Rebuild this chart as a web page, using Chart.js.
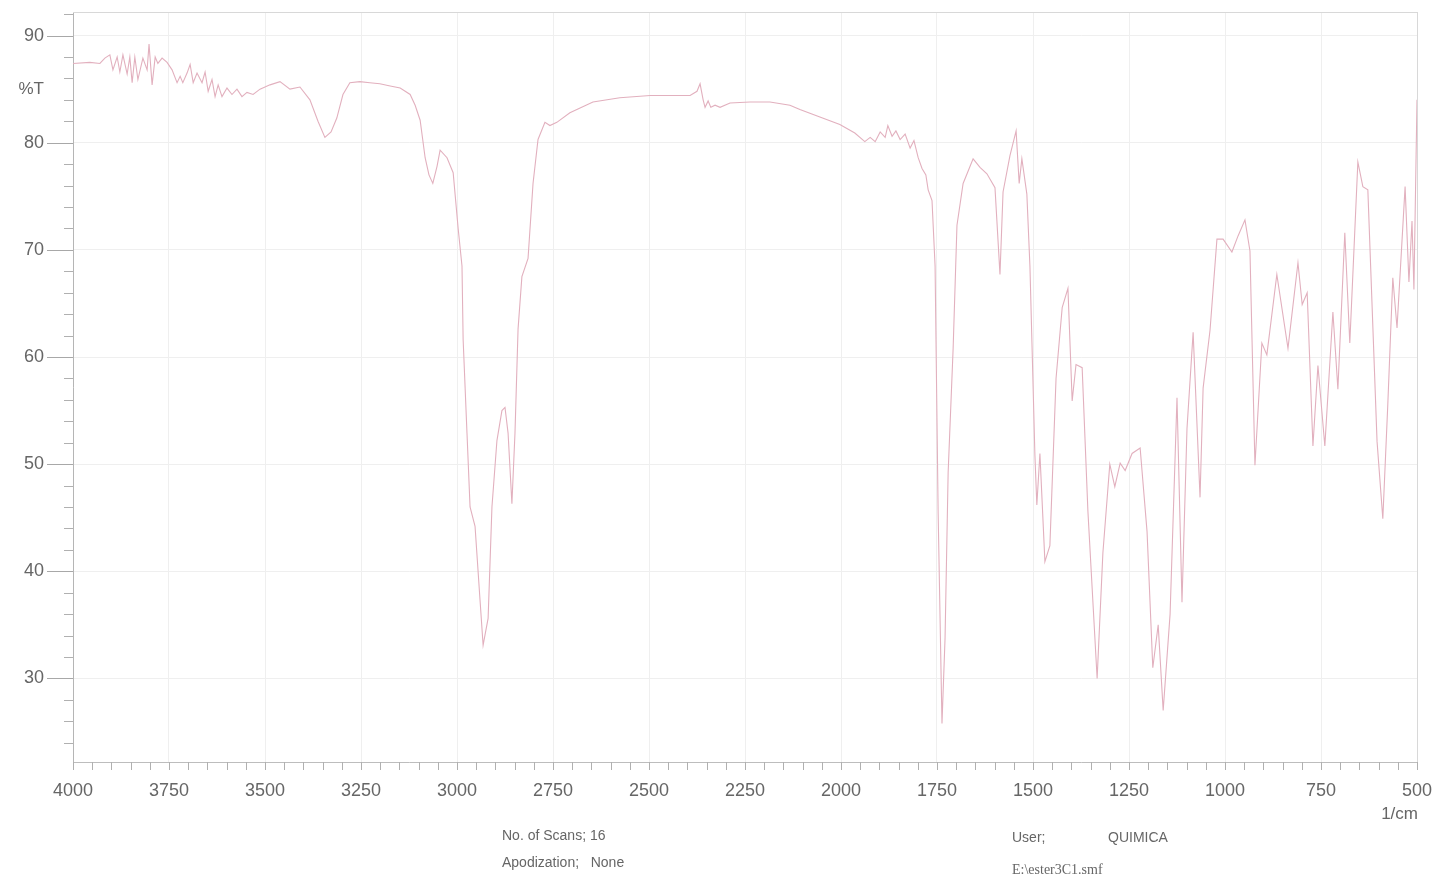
<!DOCTYPE html>
<html>
<head>
<meta charset="utf-8">
<script src="https://cdn.jsdelivr.net/npm/chart.js@4.4.1/dist/chart.umd.min.js"></script>
<style>
  html, body { margin: 0; padding: 0; background: #ffffff; }
  #wrap { position: relative; width: 1436px; height: 877px; overflow: hidden; }
  canvas { position: absolute; left: 0; top: 0; }
  .note { position: absolute; font-family: "Liberation Sans", Arial, sans-serif; font-size: 14px; color: #666; white-space: pre; line-height: 16px; }
  .serif { font-family: "Liberation Serif", "Times New Roman", serif; }
</style>
</head>
<body>
<div id="wrap">
  <canvas id="c" width="1436" height="877"></canvas>
  <div class="note" style="left:502px; top:827px;">No. of Scans; 16</div>
  <div class="note" style="left:502px; top:854px;">Apodization;   None</div>
  <div class="note" style="left:1012px; top:829px;">User;</div>
  <div class="note" style="left:1108px; top:829px;">QUIMICA</div>
  <div class="note serif" style="left:1012px; top:862px;">E:\ester3C1.smf</div>
</div>
<script>
// ---- data (wavenumber in 1/cm, transmittance in %T) ----
const wavenumbers = [
  4000, 3956, 3930, 3917, 3904, 3896, 3885, 3878, 3870, 3859, 3852, 3846, 3839, 3831, 3818, 3807,
  3802, 3794, 3786, 3779, 3768, 3755, 3742, 3729, 3721, 3714, 3703, 3695, 3687, 3677, 3664, 3656,
  3648, 3638, 3630, 3622, 3612, 3599, 3586, 3573, 3560, 3547, 3531, 3513, 3487, 3461, 3435, 3409,
  3383, 3362, 3344, 3328, 3313, 3297, 3279, 3253, 3227, 3201, 3174, 3148, 3122, 3109, 3096, 3083,
  3073, 3063, 3052, 3044, 3026, 3010, 2997, 2987, 2984, 2974, 2966, 2953, 2940, 2932, 2919, 2909,
  2896, 2883, 2875, 2867, 2857, 2849, 2841, 2831, 2815, 2802, 2789, 2771, 2758, 2740, 2706, 2646,
  2576, 2497, 2393, 2375, 2367, 2359, 2354, 2346, 2339, 2328, 2315, 2289, 2237, 2185, 2133, 2107,
  2055, 2003, 1964, 1938, 1924, 1911, 1898, 1885, 1878, 1867, 1857, 1846, 1833, 1820, 1810, 1799,
  1789, 1779, 1773, 1763, 1755, 1747, 1737, 1729, 1721, 1708, 1698, 1682, 1656, 1638, 1620, 1599,
  1586, 1578, 1560, 1544, 1536, 1529, 1516, 1508, 1495, 1490, 1482, 1469, 1456, 1440, 1424, 1409,
  1398, 1388, 1372, 1357, 1333, 1318, 1300, 1287, 1273, 1260, 1242, 1221, 1203, 1188, 1174, 1161,
  1143, 1125, 1112, 1099, 1083, 1065, 1057, 1039, 1021, 1005, 982, 966, 948, 935, 922, 904,
  891, 865, 836, 810, 799, 786, 771, 758, 740, 719, 706, 688, 675, 654, 641, 628,
  604, 589, 576, 563, 552, 531, 521, 513, 508, 500
];
const transmittance = [
  87.4, 87.5, 87.4, 87.9, 88.2, 86.8, 88.0, 86.6, 88.2, 86.4, 88.0, 85.6, 88.0, 85.9, 87.9, 86.8,
  89.2, 85.4, 88.0, 87.4, 87.9, 87.5, 86.8, 85.6, 86.2, 85.6, 86.5, 87.3, 85.6, 86.5, 85.6, 86.6,
  84.8, 85.9, 84.3, 85.4, 84.3, 85.1, 84.5, 85.0, 84.3, 84.7, 84.5, 85.0, 85.4, 85.7, 85.0, 85.2,
  84.0, 82.0, 80.5, 81.0, 82.3, 84.5, 85.6, 85.7, 85.6, 85.5, 85.3, 85.1, 84.5, 83.5, 82.1, 78.6,
  77.0, 76.2, 77.8, 79.3, 78.6, 77.2, 72.0, 68.5, 61.6, 52.9, 46.0, 44.2, 37.3, 33.1, 35.6, 46.0,
  52.2, 55.0, 55.3, 52.9, 46.3, 52.9, 62.6, 67.5, 69.2, 76.2, 80.3, 81.9, 81.6, 81.9, 82.8, 83.8,
  84.2, 84.4, 84.4, 84.8, 85.5, 84.0, 83.3, 83.9, 83.3, 83.5, 83.3, 83.7, 83.8, 83.8, 83.5, 83.1,
  82.4, 81.7, 80.9, 80.1, 80.5, 80.1, 81.0, 80.5, 81.6, 80.6, 81.1, 80.3, 80.8, 79.5, 80.2, 78.6,
  77.6, 77.0, 75.6, 74.6, 68.5, 45.4, 25.8, 33.8, 49.2, 60.8, 72.3, 76.2, 78.5, 77.7, 77.1, 75.8,
  67.7, 75.4, 78.8, 81.1, 76.2, 78.5, 75.2, 68.5, 50.8, 46.2, 51.0, 40.9, 42.4, 58.0, 64.6, 66.4,
  55.9, 59.3, 59.0, 45.6, 30.0, 41.7, 50.0, 47.9, 50.1, 49.4, 51.0, 51.5, 43.7, 31.0, 35.0, 27.0,
  36.0, 56.2, 37.1, 53.3, 62.3, 46.9, 57.1, 62.5, 71.0, 71.0, 69.8, 71.3, 72.8, 69.9, 49.9, 61.3,
  60.2, 67.7, 60.8, 68.8, 64.9, 66.0, 51.7, 59.2, 51.7, 64.2, 57.0, 71.6, 61.3, 78.2, 75.9, 75.6,
  52.1, 44.9, 55.6, 67.4, 62.7, 75.9, 67.0, 72.7, 66.3, 84.0
];
const xTickValues = [4000, 3750, 3500, 3250, 3000, 2750, 2500, 2250, 2000, 1750, 1500, 1250, 1000, 750, 500];
const yTickValues = [30, 40, 50, 60, 70, 80, 90];
const xRange = [500, 4000];
const yRange = [22.2, 92.2];
const xMinorStep = 50;
const yMinorStep = 2;
const yAxisUnit = '%T';
const xAxisUnit = '1/cm';

const points = wavenumbers.map((w, i) => ({ x: w, y: transmittance[i] }));
const labelFont = { family: '"Liberation Sans", Arial, sans-serif', size: 18 };
// target plot frame in page pixels
const frame = { left: 73, top: 12, right: 1417, bottom: 762 };

const decor = {
  id: 'decor',
  afterDraw(chart) {
    const { ctx, chartArea: a, scales: { x, y } } = chart;
    ctx.save();
    ctx.strokeStyle = '#d8d8d8';
    ctx.lineWidth = 1;
    ctx.beginPath();
    ctx.moveTo(a.left, a.top + 0.5); ctx.lineTo(a.right, a.top + 0.5);
    ctx.moveTo(a.right + 0.5, a.top); ctx.lineTo(a.right + 0.5, a.bottom);
    ctx.stroke();
    ctx.strokeStyle = '#b0b0b0';
    ctx.beginPath();
    for (let v = xRange[0]; v <= xRange[1]; v += xMinorStep) {
      const px = Math.round(x.getPixelForValue(v)) + 0.5;
      ctx.moveTo(px, a.bottom); ctx.lineTo(px, a.bottom + 8);
    }
    for (let v = 24; v <= yRange[1]; v += yMinorStep) {
      const py = Math.round(y.getPixelForValue(v)) + 0.5;
      ctx.moveTo(a.left - 9, py); ctx.lineTo(a.left, py);
    }
    ctx.stroke();
    ctx.strokeStyle = '#a8a8a8';
    ctx.beginPath();
    yTickValues.forEach(v => {
      const py = Math.round(y.getPixelForValue(v)) + 0.5;
      ctx.moveTo(a.left - 26, py); ctx.lineTo(a.left, py);
    });
    ctx.stroke();
    ctx.fillStyle = '#666';
    ctx.font = '17px "Liberation Sans", Arial, sans-serif';
    ctx.textAlign = 'right';
    ctx.textBaseline = 'middle';
    ctx.fillText(yAxisUnit, 44, y.getPixelForValue(85));
    ctx.fillText(xAxisUnit, a.right + 1, a.bottom + 52);
    ctx.restore();
  }
};

const chart = new Chart(document.getElementById('c'), {
  type: 'line',
  data: {
    datasets: [{
      data: points,
      borderColor: 'rgb(226,176,190)',
      borderWidth: 1.1,
      pointRadius: 0,
      tension: 0,
      fill: false
    }]
  },
  options: {
    responsive: false,
    animation: false,
    parsing: false,
    normalized: true,
    plugins: { legend: { display: false }, tooltip: { enabled: false } },
    layout: { padding: { top: frame.top, right: 1436 - frame.right, left: 0, bottom: 0 } },
    scales: {
      x: {
        type: 'linear',
        reverse: true,
        min: xRange[0],
        max: xRange[1],
        afterBuildTicks: s => { s.ticks = xTickValues.map(v => ({ value: v })); },
        afterFit: s => { s.height = 877 - frame.bottom; s.paddingLeft = 0; s.paddingRight = 0; },
        ticks: { font: labelFont, color: '#666', padding: 18, maxRotation: 0, autoSkip: false, callback: v => String(v) },
        grid: { color: '#efefef', drawTicks: false },
        border: { color: '#bdbdbd' }
      },
      y: {
        type: 'linear',
        min: yRange[0],
        max: yRange[1],
        afterBuildTicks: s => { s.ticks = yTickValues.map(v => ({ value: v })); },
        afterFit: s => { s.width = frame.left; s.paddingTop = 0; s.paddingBottom = 0; },
        ticks: { font: labelFont, color: '#666', padding: 29, callback: v => String(v) },
        grid: { color: '#efefef', drawTicks: false },
        border: { color: '#b5b5b5' }
      }
    }
  },
  plugins: [decor]
});
</script>
</body>
</html>
